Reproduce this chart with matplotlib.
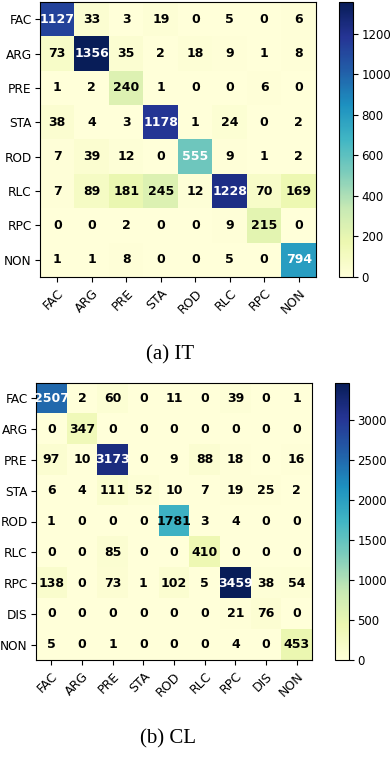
import numpy as np
import matplotlib
matplotlib.use("Agg")
import matplotlib.pyplot as plt

# labels
it_labels = ["FAC", "ARG", "PRE", "STA", "ROD", "RLC", "RPC", "NON"]
cl_labels = ["FAC", "ARG", "PRE", "STA", "ROD", "RLC", "RPC", "DIS", "NON"]

# confusion matrices (rows = true, cols = predicted)
it_cm = np.array([
    [1127, 33, 3, 19, 0, 5, 0, 6],
    [73, 1356, 35, 2, 18, 9, 1, 8],
    [1, 2, 240, 1, 0, 0, 6, 0],
    [38, 4, 3, 1178, 1, 24, 0, 2],
    [7, 39, 12, 0, 555, 9, 1, 2],
    [7, 89, 181, 245, 12, 1228, 70, 169],
    [0, 0, 2, 0, 0, 9, 215, 0],
    [1, 1, 8, 0, 0, 5, 0, 794],
])

cl_cm = np.array([
    [2507, 2, 60, 0, 11, 0, 39, 0, 1],
    [0, 347, 0, 0, 0, 0, 0, 0, 0],
    [97, 10, 3173, 0, 9, 88, 18, 0, 16],
    [6, 4, 111, 52, 10, 7, 19, 25, 2],
    [1, 0, 0, 0, 1781, 3, 4, 0, 0],
    [0, 0, 85, 0, 0, 410, 0, 0, 0],
    [138, 0, 73, 1, 102, 5, 3459, 38, 54],
    [0, 0, 0, 0, 0, 0, 21, 76, 0],
    [5, 0, 1, 0, 0, 0, 4, 0, 453],
])

W, H = 390, 784
fig = plt.figure(figsize=(W / 100, H / 100), dpi=100)


def px(x0, y0, x1, y1):
    return [x0 / W, 1 - y1 / H, (x1 - x0) / W, (y1 - y0) / H]


def draw(cm, labels, ax_box, cb_box, thresh, cb_ticks):
    ax = fig.add_axes(px(*ax_box))
    cax = fig.add_axes(px(*cb_box))
    im = ax.imshow(cm, cmap="YlGnBu", aspect="auto")
    n = len(labels)
    ax.set_xticks(range(n))
    ax.set_yticks(range(n))
    ax.set_xticklabels(labels, rotation=45, ha="right", rotation_mode="anchor",
                       fontsize=9)
    ax.set_yticklabels(labels, fontsize=8.7)
    ax.tick_params(axis="y", pad=2.5)
    for i in range(n):
        for j in range(n):
            v = cm[i, j]
            ax.text(j, i, str(v), ha="center", va="center", fontsize=9,
                    fontweight="bold",
                    color="white" if v > thresh else "black")
    cb = fig.colorbar(im, cax=cax, ticks=cb_ticks)
    cb.ax.tick_params(labelsize=8.5, pad=2.5)
    return ax


draw(it_cm, it_labels, (40, 2, 316, 277), (339, 2, 353, 277), 400,
     [0, 200, 400, 600, 800, 1000, 1200])
draw(cl_cm, cl_labels, (36, 383, 312, 660), (335, 383, 349, 660), 2000,
     [0, 500, 1000, 1500, 2000, 2500, 3000])

fig.text(170.5 / W, 1 - 355 / H, "(a) IT", ha="center", va="center",
         family="Liberation Serif", fontsize=15)
fig.text(168.5 / W, 1 - 738.5 / H, "(b) CL", ha="center", va="center",
         family="Liberation Serif", fontsize=15)

fig.savefig("out.png", dpi=100)
